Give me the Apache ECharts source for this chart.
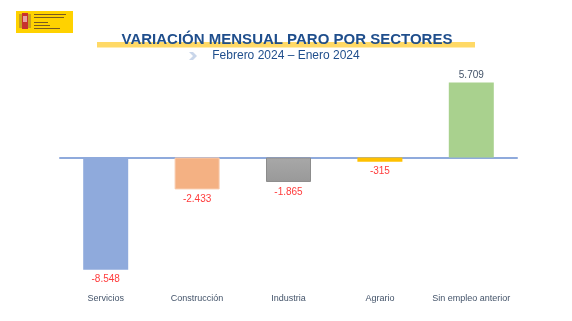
<!DOCTYPE html>
<html>
<head>
<meta charset="utf-8">
<script src="https://cdn.jsdelivr.net/npm/echarts@6/dist/echarts.min.js"></script>
<style>
html,body{margin:0;padding:0;background:#fff;}
#c{width:572px;height:321px;}
</style>
</head>
<body>
<div id="c"></div>
<script>
const categories = ['Servicios', 'Construcción', 'Industria', 'Agrario', 'Sin empleo anterior'];
const values = [-8548, -2433, -1865, -315, 5709];
const valueLabels = ['-8.548', '-2.433', '-1.865', '-315', '5.709'];
const barColors = ['#8FAADC', '#F4B183', '#A5A5A5', '#FFC000', '#A9D18E'];
const titleText = 'VARIACIÓN MENSUAL PARO POR SECTORES';
const subtitleText = 'Febrero 2024 – Enero 2024';

const chart = echarts.init(document.getElementById('c'), null, {renderer: 'canvas'});

const yMax = 6000, yMin = -9000;
const k = 0.01312;
const zeroY = 157.5;
const gridTop = zeroY - yMax * k;
const gridHeight = (yMax - yMin) * k;

const data = values.map((v, i) => {
  const item = {
    value: v,
    itemStyle: {color: barColors[i]},
    label: {
      show: true,
      position: v < 0 ? 'bottom' : 'top',
      distance: v < 0 ? 5 : 2,
      formatter: valueLabels[i],
      color: v < 0 ? '#FF3B3B' : '#44546A',
      fontSize: 10,
      fontFamily: 'Liberation Sans'
    }
  };
  if (i === 2) {
    item.itemStyle = {
      color: new echarts.graphic.LinearGradient(0, 0, 0, 1, [
        {offset: 0, color: '#A8A8A8'},
        {offset: 1, color: '#999999'}
      ]),
      borderColor: '#8C8C8C',
      borderWidth: 1
    };
  }
  if (i === 1) {
    item.itemStyle.borderColor = '#F8CBAD';
    item.itemStyle.borderWidth = 1;
  }
  return item;
});

const baseGraphics = [
  // logo
  {type: 'rect', shape: {x: 16, y: 11, width: 57, height: 22}, style: {fill: '#FFD200'}},
  {type: 'rect', shape: {x: 19, y: 14, width: 3, height: 14}, style: {fill: '#C8A020'}},
  {type: 'rect', shape: {x: 28, y: 14, width: 3, height: 14}, style: {fill: '#C8A020'}},
  {type: 'rect', shape: {x: 22, y: 13, width: 6, height: 16}, style: {fill: '#C8312E'}},
  {type: 'rect', shape: {x: 23, y: 16, width: 4, height: 6}, style: {fill: '#E8A0A0'}},
  {type: 'rect', shape: {x: 34, y: 14, width: 32, height: 1}, style: {fill: '#7A5A20'}},
  {type: 'rect', shape: {x: 34, y: 17, width: 30, height: 1}, style: {fill: '#7A5A20'}},
  {type: 'rect', shape: {x: 34, y: 22, width: 14, height: 1}, style: {fill: '#7A5A20'}},
  {type: 'rect', shape: {x: 34, y: 25, width: 16, height: 1}, style: {fill: '#7A5A20'}},
  {type: 'rect', shape: {x: 34, y: 28, width: 26, height: 1}, style: {fill: '#7A5A20'}},
  // yellow band
  {type: 'rect', shape: {x: 97, y: 42, width: 378, height: 5.5}, style: {fill: '#FFD966'}, z: 1},
  // title
  {type: 'text', x: 287, y: 39.5, z: 2, style: {
    text: titleText, fill: '#1F4E8C', font: 'bold 15px "Liberation Sans"',
    textAlign: 'center', textVerticalAlign: 'middle'
  }},
  // chevron
  {type: 'polygon', shape: {points: [[189, 52], [193, 52], [197, 56], [193, 60], [189, 60], [193, 56]]},
    style: {fill: '#C9D6EA'}},
  // subtitle
  {type: 'text', x: 286, y: 56, style: {
    text: subtitleText, fill: '#1F4E8C', font: '12px "Liberation Sans"',
    textAlign: 'center', textVerticalAlign: 'middle'
  }}
];

chart.setOption({
  animation: false,
  backgroundColor: '#ffffff',
  grid: {left: 60, width: 457, top: gridTop, height: gridHeight, containLabel: false},
  xAxis: {
    type: 'category',
    data: categories,
    axisLine: {show: true, onZero: true, lineStyle: {color: '#8FAADC', width: 2}},
    axisTick: {show: false},
    axisLabel: {show: false}
  },
  yAxis: {
    type: 'value',
    min: yMin,
    max: yMax,
    show: false,
    splitLine: {show: false}
  },
  series: [{
    type: 'bar',
    data: data,
    barWidth: 45,
    z: 1
  }]
});

// category labels placed via the chart's own scale
const labelGraphics = categories.map((c) => {
  const px = chart.convertToPixel({xAxisIndex: 0}, c);
  return {type: 'text', x: px, y: 299, style: {
    text: c, fill: '#44546A', font: '9px "Liberation Sans"',
    textAlign: 'center', textVerticalAlign: 'middle'
  }};
});
chart.setOption({graphic: baseGraphics.concat(labelGraphics)});
</script>
</body>
</html>
